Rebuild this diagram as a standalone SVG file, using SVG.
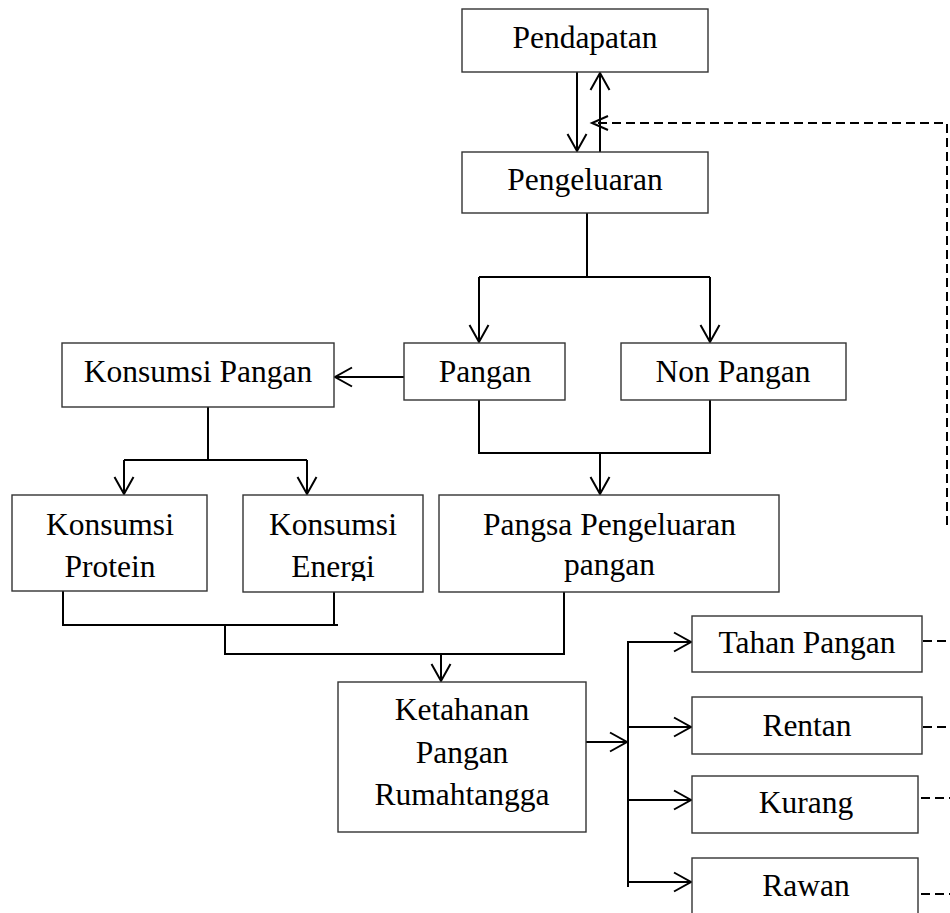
<svg xmlns="http://www.w3.org/2000/svg" width="950" height="913" viewBox="0 0 950 913">
<style>
.box{fill:#fff;stroke:#333;stroke-width:1.4}
.t{font-family:"Liberation Serif","Times New Roman",serif;font-size:31.5px;fill:#000;text-anchor:middle}
.c{fill:none;stroke:#000;stroke-width:2}
.d{fill:none;stroke:#000;stroke-width:2;stroke-dasharray:9 5}
</style>
<defs>
<marker id="ah" markerUnits="userSpaceOnUse" markerWidth="22" markerHeight="24" viewBox="0 0 22 24" refX="19" refY="12" orient="auto">
<path d="M2,2.5 L19,12 L2,21.5" fill="none" stroke="#000" stroke-width="2"/>
</marker>
<marker id="ahs" markerUnits="userSpaceOnUse" markerWidth="22" markerHeight="20" viewBox="0 0 22 20" refX="19" refY="10" orient="auto">
<path d="M3,3 L19,10 L3,17" fill="none" stroke="#000" stroke-width="2"/>
</marker>
<clipPath id="clipE"><rect x="243" y="495" width="180" height="86"/></clipPath>
</defs>

<g id="connectors">
<line class="c" x1="577" y1="72" x2="577" y2="151" marker-end="url(#ah)"/>
<line class="c" x1="600" y1="152" x2="600" y2="73" marker-end="url(#ah)"/>
<polyline class="c" points="587,213 587,277"/>
<polyline class="c" points="479,277 710,277"/>
<line class="c" x1="479" y1="277" x2="479" y2="342" marker-end="url(#ah)"/>
<line class="c" x1="710" y1="277" x2="710" y2="342" marker-end="url(#ah)"/>
<line class="c" x1="404" y1="377" x2="335" y2="377" marker-end="url(#ah)"/>
<polyline class="c" points="208,407 208,460"/>
<polyline class="c" points="124,460 307,460"/>
<line class="c" x1="124" y1="460" x2="124" y2="494" marker-end="url(#ah)"/>
<line class="c" x1="307" y1="460" x2="307" y2="494" marker-end="url(#ah)"/>
<polyline class="c" points="479,400 479,453 710,453 710,400"/>
<line class="c" x1="600" y1="453" x2="600" y2="494" marker-end="url(#ah)"/>
<polyline class="c" points="63,591 63,625 338,625"/>
<polyline class="c" points="334,592 334,625"/>
<polyline class="c" points="225,625 225,654 564,654 564,592"/>
<line class="c" x1="441" y1="654" x2="441" y2="681" marker-end="url(#ah)"/>
<line class="c" x1="586" y1="742" x2="627" y2="742" marker-end="url(#ah)"/>
<polyline class="c" points="628,641 628,887"/>
<line class="c" x1="628" y1="642" x2="691" y2="642" marker-end="url(#ah)"/>
<line class="c" x1="628" y1="727" x2="691" y2="727" marker-end="url(#ah)"/>
<line class="c" x1="628" y1="800" x2="691" y2="800" marker-end="url(#ah)"/>
<line class="c" x1="628" y1="882" x2="691" y2="882" marker-end="url(#ah)"/>
<polyline class="d" points="947,525 947,123 592,123" marker-end="url(#ahs)"/>
<line class="d" x1="923" y1="641" x2="950" y2="641"/>
<line class="d" x1="923" y1="727" x2="950" y2="727"/>
<line class="d" x1="921" y1="798" x2="950" y2="798"/>
<line class="d" x1="921" y1="894" x2="950" y2="894"/>
</g>

<g id="pendapatan"><rect class="box" x="462" y="9" width="246" height="63"/><text class="t" x="585" y="48">Pendapatan</text></g>
<g id="pengeluaran"><rect class="box" x="462" y="152" width="246" height="61"/><text class="t" x="585" y="190">Pengeluaran</text></g>
<g id="konsumsi-pangan"><rect class="box" x="62" y="343" width="272" height="64"/><text class="t" x="198" y="382">Konsumsi Pangan</text></g>
<g id="pangan"><rect class="box" x="404" y="343" width="161" height="57"/><text class="t" x="485" y="382">Pangan</text></g>
<g id="non-pangan"><rect class="box" x="621" y="343" width="225" height="57"/><text class="t" x="733" y="382">Non Pangan</text></g>
<g id="konsumsi-protein"><rect class="box" x="12" y="495" width="195" height="96"/><text class="t" x="110" y="535">Konsumsi</text><text class="t" x="110" y="577">Protein</text></g>
<g id="konsumsi-energi"><rect class="box" x="243" y="495" width="180" height="97"/><text class="t" x="333" y="535">Konsumsi</text><text class="t" x="333" y="577" clip-path="url(#clipE)">Energi</text></g>
<g id="pangsa"><rect class="box" x="439" y="495" width="340" height="97"/><text class="t" x="609.5" y="535">Pangsa Pengeluaran</text><text class="t" x="609.5" y="575">pangan</text></g>
<g id="ketahanan"><rect class="box" x="338" y="682" width="248" height="150"/><text class="t" x="462" y="720">Ketahanan</text><text class="t" x="462" y="763">Pangan</text><text class="t" x="462" y="805">Rumahtangga</text></g>
<g id="tahan-pangan"><rect class="box" x="692" y="616" width="230" height="56"/><text class="t" x="807" y="653">Tahan Pangan</text></g>
<g id="rentan"><rect class="box" x="692" y="697" width="230" height="57"/><text class="t" x="807" y="736">Rentan</text></g>
<g id="kurang"><rect class="box" x="692" y="776" width="226" height="57"/><text class="t" x="806" y="813">Kurang</text></g>
<g id="rawan"><rect class="box" x="692" y="858" width="226" height="70"/><text class="t" x="806" y="896">Rawan</text></g>
</svg>
